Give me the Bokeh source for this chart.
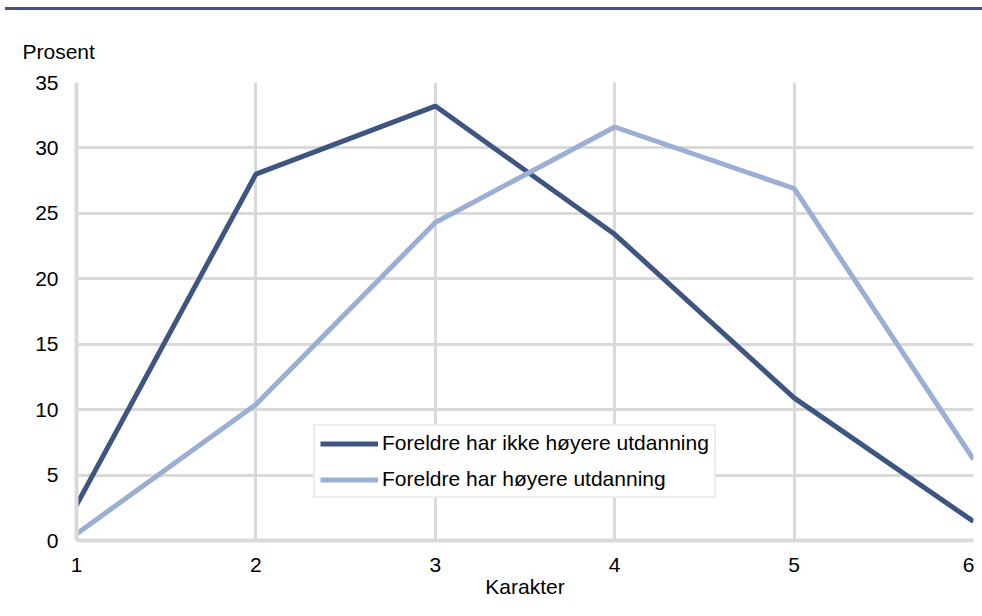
from bokeh.plotting import figure
from bokeh.embed import file_html
from bokeh.resources import INLINE
from bokeh.models import Div, Legend, LegendItem, FixedTicker, Title
from bokeh.layouts import column

karakter = [1, 2, 3, 4, 5, 6]
ikke_hoyere = [2.7, 28.0, 33.2, 23.4, 10.9, 1.45]
hoyere = [0.5, 10.4, 24.3, 31.6, 26.9, 6.2]
y_ticks = [0, 5, 10, 15, 20, 25, 30, 35]
label_ikke = "Foreldre har ikke høyere utdanning"
label_hoyere = "Foreldre har høyere utdanning"

DARK = "#3d5580"
LIGHT = "#9aafd3"
GRID = "#d9d9d9"
FONT = "Liberation Sans"
FS = "21px"

rule = Div(text="", width=977, height=3, margin=(7, 0, -8, 5),
           styles={"background-color": DARK, "width": "977px", "height": "3px"})

p = figure(width=974, height=606, x_range=(1, 6), y_range=(0, 35),
           output_backend="svg", toolbar_location=None,
           min_border_left=76, min_border_right=1, min_border_top=80,
           min_border_bottom=68, margin=(0, 0, 0, 0))
p.outline_line_color = None
p.border_fill_alpha = 0
p.background_fill_color = "white"

p.title = Title(text="Prosent", align="left", offset=-54, standoff=40,
                text_font=FONT, text_font_size=FS, text_font_style="normal",
                text_color="#000000")

r1 = p.line(karakter, ikke_hoyere, line_color=DARK, line_width=5)
r2 = p.line(karakter, hoyere, line_color=LIGHT, line_width=5)

for ax in (p.xaxis, p.yaxis):
    ax.axis_line_color = GRID
    ax.axis_line_width = 4
    ax.major_tick_line_color = None
    ax.minor_tick_line_color = None
    ax.major_label_text_font = FONT
    ax.major_label_text_font_size = FS
    ax.major_label_text_color = "#000000"

p.xaxis.ticker = FixedTicker(ticks=karakter)
p.yaxis.ticker = FixedTicker(ticks=y_ticks)
p.xaxis.major_label_standoff = 11
p.yaxis.major_label_standoff = 12
p.xaxis.axis_label = "Karakter"
p.xaxis.axis_label_text_font = FONT
p.xaxis.axis_label_text_font_size = FS
p.xaxis.axis_label_text_font_style = "normal"
p.xaxis.axis_label_text_color = "#000000"
p.xaxis.axis_label_standoff = 0

p.xgrid.grid_line_color = GRID
p.xgrid.grid_line_width = 3
p.ygrid.grid_line_color = GRID
p.ygrid.grid_line_width = 3

legend = Legend(items=[LegendItem(label=label_ikke, renderers=[r1]),
                       LegendItem(label=label_hoyere, renderers=[r2])],
                location=(237, 42), orientation="vertical")
legend.label_text_font = FONT
legend.label_text_font_size = FS
legend.label_text_color = "#000000"
legend.glyph_width = 58
legend.glyph_height = 21
legend.label_standoff = 4
legend.spacing = 12
legend.padding = 5
legend.margin = 0
legend.border_line_color = GRID
legend.border_line_width = 2
legend.background_fill_color = "white"
legend.background_fill_alpha = 1
p.add_layout(legend, "center")

layout = column(rule, p, spacing=0)
open("out.html", "w").write(file_html(layout, INLINE))
